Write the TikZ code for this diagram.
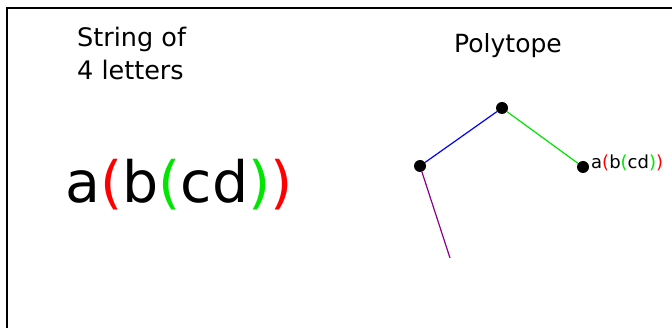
\documentclass[tikz,border=0pt]{standalone}
\usepackage{fontspec}
\setmainfont{DejaVu Sans}
\definecolor{pgreen}{RGB}{0,230,0}
\definecolor{pred}{RGB}{255,0,0}
\definecolor{ppurple}{RGB}{140,0,140}
\begin{document}
\begin{tikzpicture}[x=1pt,y=-1pt,
  lbl/.style={inner sep=0pt,anchor=base west},
  vtx/.style={circle,fill=black,inner sep=0pt,minimum size=12pt},
  edge/.style={line width=1.2pt}]
\useasboundingbox (0,0) rectangle (672,328);
\coordinate (fbl) at (7,330);
\coordinate (ftl) at (7,8);
\coordinate (ftr) at (674,8);
\draw[line width=1.4pt] (fbl) -- (ftl) -- (ftr);
\node[lbl,font=\fontsize{25.5}{33}\selectfont,align=left] (title1) at (77,80) {String of\\4 letters};
\node[lbl,font=\fontsize{25}{28}\selectfont] (title2) at (454,53) {Polytope};
\node[lbl,font=\fontsize{57}{60}\selectfont] (word) at (65,203) {a\textcolor{pred}{(}b\textcolor{pgreen}{(}cd\textcolor{pgreen}{)}\textcolor{pred}{)}};
\node[vtx] (top) at (502,108) {};
\node[vtx] (left) at (420,166) {};
\node[vtx] (right) at (583,167) {};
\coordinate (down) at (450,258);
\draw[edge,blue] (left) -- (top);
\draw[edge,pgreen] (top) -- (right);
\draw[edge,ppurple] (left) -- (down);
\node[lbl,font=\fontsize{18}{18}\selectfont] (rlabel) at (591,168.5) {a\textcolor{pred}{(}b\textcolor{pgreen}{(}cd\textcolor{pgreen}{)}\textcolor{pred}{)}};
\end{tikzpicture}
\end{document}
